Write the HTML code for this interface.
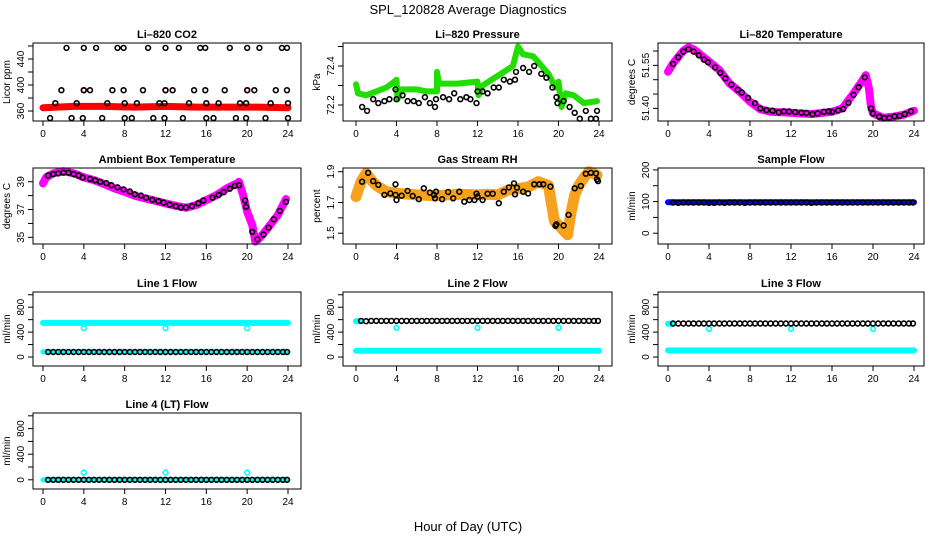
<!DOCTYPE html>
<html><head><meta charset="utf-8"><style>
html,body{margin:0;padding:0;background:#fff;}
svg{display:block;font-family:"Liberation Sans",Arial,sans-serif;}
</style></head><body>
<svg id="fig" width="936" height="540" viewBox="0 0 936 540" xmlns="http://www.w3.org/2000/svg">
<rect width="936" height="540" fill="#fff"/>
<text x="468" y="14" text-anchor="middle" font-size="13">SPL_120828  Average Diagnostics</text>
<text x="468" y="531" text-anchor="middle" font-size="13">Hour of Day (UTC)</text>
</svg>
<script>
// ---------- data ----------
const xTicks = [0,4,8,12,16,20,24];
// CO2
const co2Hours = [2.3,4.0,5.2,7.3,7.9,10.3,12.0,13.3,15.4,15.9,18.3,20.0,21.2,23.4,23.9,
 1.8,4.0,4.6,6.8,7.9,9.8,12.0,12.7,14.8,15.9,17.8,20.0,20.7,22.8,23.9,
 1.2,3.3,6.3,8.0,9.2,11.4,11.9,14.3,16.0,17.2,19.3,19.9,22.3,24.0,
 0.7,2.8,3.9,5.8,8.0,8.7,10.8,11.9,13.7,16.0,16.7,18.9,19.9,21.8,24.0];
const co2Values = [457,457,457,457,457,457,457,457,457,457,457,457,457,457,457,
 392,392,392,392,392,392,392,392,392,392,392,392,392,392,392,
 372,372,372,372,372,372,372,372,372,372,372,372,372,372,
 349,349,349,349,349,349,349,349,349,349,349,349,349,349,349];
const co2BandHours = [0,3,6,9,12,15,18,21,24];
const co2BandValues = [365,367,367,366,367,366,366,366,365];
const co2RedHours = [4,12,20];
const co2RedValues = [392,392,392];
// Pressure
const presBandHours = [0,0.2,1,2,3,3.8,4,4.1,4.5,6,7,8,8,8.2,10,12,12.1,12.5,14,15.5,16,16.5,17.5,18,19,19.7,20,20.3,20.7,21.5,22.5,23.8];
const presBandValues = [72.306,72.26,72.25,72.27,72.29,72.32,72.33,72.23,72.28,72.28,72.27,72.27,72.37,72.31,72.31,72.32,72.25,72.30,72.35,72.40,72.50,72.46,72.45,72.42,72.36,72.29,72.32,72.19,72.26,72.25,72.21,72.22];
const presHours = [0.6,1.1,1.7,2.2,2.8,3.3,3.9,4.0,4.6,5.1,5.7,6.2,6.8,7.3,7.8,7.9,8.6,9.2,9.7,10.3,10.9,11.3,11.9,12,12.5,13.0,13.6,14.1,14.6,15.2,15.7,15.8,16.5,17.1,17.6,18.3,18.8,19.4,19.8,19.9,20.5,21.1,21.6,22.1,22.7,23.2,23.7,23.8];
const presValues = [72.19,72.17,72.23,72.21,72.22,72.23,72.28,72.23,72.25,72.22,72.22,72.21,72.24,72.21,72.19,72.23,72.24,72.23,72.26,72.23,72.24,72.23,72.21,72.27,72.27,72.26,72.29,72.29,72.33,72.32,72.33,72.37,72.39,72.37,72.40,72.36,72.34,72.29,72.24,72.21,72.22,72.19,72.16,72.13,72.17,72.13,72.13,72.17];
// Li-820 Temperature
const tempBandHours = [0,0.5,1,1.5,2,2.5,3,4,5,6,7,8,9,10,12,14,16,17,18,19,19.3,19.6,19.8,20,21,22,23,24];
const tempBandValues = [51.528,51.557,51.580,51.601,51.613,51.606,51.592,51.563,51.534,51.487,51.458,51.423,51.397,51.388,51.385,51.380,51.388,51.400,51.447,51.499,51.516,51.470,51.406,51.383,51.367,51.371,51.378,51.392];
const tempHours = [0.5,1.0,1.5,2.0,2.5,3.0,3.5,3.9,4.6,5.1,5.6,6.2,6.8,7.2,7.8,8.5,9.0,9.6,10.2,10.8,11.3,11.8,12.4,13.0,13.5,14.1,14.6,15.2,15.7,16.0,16.6,17.1,17.6,18.1,18.6,19.2,19.8,20.0,20.6,21.1,21.6,22.1,22.6,23.1,23.7];
const tempValues = [51.555,51.578,51.598,51.606,51.598,51.585,51.570,51.561,51.543,51.524,51.505,51.483,51.465,51.455,51.437,51.418,51.400,51.394,51.392,51.386,51.390,51.389,51.387,51.385,51.384,51.380,51.382,51.388,51.390,51.388,51.393,51.398,51.419,51.447,51.474,51.508,51.400,51.382,51.371,51.366,51.367,51.372,51.374,51.380,51.390];
// Ambient
const ambBandHours = [0,0.3,1,2,3,4,5,6,7,8,9,10,11,12,13,14,15,16,17,18,19,19.2,19.6,20,20.5,20.8,21.2,22,23,23.8];
const ambBandValues = [38.88,39.31,39.6,39.77,39.6,39.31,39.12,38.83,38.52,38.28,37.99,37.8,37.63,37.44,37.27,37.13,37.32,37.68,38.04,38.52,38.88,39.0,38.04,36.84,35.89,34.69,34.93,35.65,36.6,37.75];
const ambHours = [0.5,1.0,1.5,2.0,2.5,3.0,3.5,3.9,4.6,5.1,5.6,6.2,6.7,7.3,7.9,8.5,9.0,9.6,10.1,10.7,11.3,11.8,12.4,13.0,13.5,14.0,14.6,15.2,15.7,16.6,17.2,17.7,18.3,18.8,19.2,19.8,19.9,20.5,21.0,21.6,22.1,22.6,23.2,23.8];
const ambValues = [39.45,39.55,39.6,39.65,39.65,39.55,39.45,39.3,39.2,39.1,39.0,38.9,38.75,38.6,38.45,38.3,38.1,38.0,37.85,37.7,37.6,37.5,37.35,37.25,37.15,37.15,37.25,37.45,37.65,37.85,38.05,38.25,38.5,38.7,38.75,37.65,37.2,35.4,34.85,35.2,35.7,36.3,36.9,37.55];
// RH
const rhBandHours = [0,0.5,1,1.5,2,3,4,6,8,10,12,13,14,15,16,17,18,19,19.3,19.6,20,20.6,20.9,21.2,21.6,22,22.6,23,23.8];
const rhBandValues = [1.738,1.835,1.889,1.846,1.81,1.77,1.76,1.749,1.744,1.753,1.749,1.753,1.749,1.78,1.79,1.80,1.835,1.81,1.695,1.576,1.554,1.51,1.49,1.62,1.749,1.81,1.868,1.9,1.878];
const rhHours = [0.6,1.2,1.7,2.2,2.8,3.4,3.9,3.9,4.0,4.5,5.1,5.6,6.2,6.7,7.3,7.7,7.8,7.9,8.5,9.1,9.6,10.2,10.7,11.2,11.7,11.9,12,12.5,13,13.5,14.1,14.6,15.1,15.6,15.7,15.9,16.5,17,17.6,18.1,18.5,19.2,19.7,19.8,20.5,21.0,21.6,22.2,22.7,23.2,23.7,23.8,23.9];
const rhValues = [1.835,1.893,1.839,1.814,1.749,1.759,1.818,1.749,1.716,1.744,1.775,1.742,1.721,1.792,1.764,1.749,1.727,1.770,1.721,1.768,1.727,1.770,1.705,1.716,1.716,1.757,1.738,1.716,1.757,1.757,1.695,1.770,1.798,1.824,1.753,1.796,1.770,1.759,1.818,1.818,1.818,1.803,1.548,1.558,1.550,1.619,1.792,1.807,1.887,1.893,1.889,1.850,1.839];
// Flows (shared hour grid)
const flowHours = [0.5,1,1.5,2,2.5,3,3.5,4,4.5,5,5.5,6,6.5,7,7.5,8,8.5,9,9.5,10,10.5,11,11.5,12,12.5,13,13.5,14,14.5,15,15.5,16,16.5,17,17.5,18,18.5,19,19.5,20,20.5,21,21.5,22,22.5,23,23.5,23.9];
const sampleValues = [97,96,97,97,97,97,97,96,96,97,96,97,97,97,96,97,97,97,97,97,97,97,97,97,97,97,97,96,97,97,97,97,97,97,97,97,97,97,97,97,97,97,97,97,97,97,97,97];
const line1Values = [80,80,80,80,80,80,80,80,80,80,80,80,80,80,80,80,80,80,80,80,80,80,80,80,80,80,80,80,80,80,80,80,80,80,80,80,80,80,80,80,80,80,80,80,80,80,80,80];
const line2Values = [580,575,580,580,580,580,580,580,580,580,580,580,580,580,580,580,580,580,580,580,580,580,580,580,580,580,580,580,580,580,580,580,580,580,580,580,580,580,580,580,580,580,580,580,580,580,580,580];
const line3Values = [538,538,538,538,538,538,538,538,538,538,538,538,538,538,538,538,538,538,538,538,538,538,538,538,538,538,538,538,538,538,538,538,538,538,538,538,538,538,538,538,538,538,538,538,538,538,538,538];
const line4Values = [0,0,0,0,0,0,0,0,0,0,0,0,0,0,0,0,0,0,0,0,0,0,0,0,0,0,0,0,0,0,0,0,0,0,0,0,0,0,0,0,0,0,0,0,0,0,0,0];
const sampleBandHours = [0,24];  const sampleBandValues = [98,98];
const line1HiHours = [0,24];     const line1HiValues = [548,548];
const line1LoHours = [0,24];     const line1LoValues = [85,85];
const line2LoHours = [0,24];     const line2LoValues = [100,100];
const line2HiHours = [0,0.5];    const line2HiValues = [575,575];
const line3LoHours = [0,24];     const line3LoValues = [106,106];
const line3HiHours = [0,0.5];    const line3HiValues = [535,535];
const line4BandHours = [0,24];   const line4BandValues = [0,0];
const dipHours = [4,12,20];
const line1DipValues = [464,464,464];
const line2DipValues = [470,470,470];
const line3DipValues = [453,453,453];
const line4DipValues = [112,112,112];

// ---------- layout ----------
const cols = [{bl:33,br:301,x0:43,x24:288},{bl:343,br:612,x0:356,x24:599},{bl:658,br:924,x0:668,x24:914}];
const rows = [{t:43,b:121},{t:168,b:244},{t:292,b:366},{t:413,b:489}];
const NS = 'http://www.w3.org/2000/svg';
const svg = document.getElementById('fig');
function mk(tag, attrs, parent){const e=document.createElementNS(NS,tag);for(const k in attrs)e.setAttribute(k,attrs[k]);(parent||svg).appendChild(e);return e;}

function panel(p){
  const c=cols[p.col], r=rows[p.row];
  const g=mk('g',{});
  
  
  const xs=h=>c.x0+(c.x24-c.x0)*h/24;
  const ys=v=>r.b-(v-p.ymin)/(p.ymax-p.ymin)*(r.b-r.t);
  // series
  p.series.forEach(s=>{
    if(s.type==='band'){
      const pts=s.h.map((h,i)=>xs(h).toFixed(1)+','+ys(s.v[i]).toFixed(1)).join(' ');
      const pl=mk('polyline',{points:pts,fill:'none',stroke:s.color,'stroke-width':s.w,'stroke-linejoin':'round','stroke-linecap':'round'},g);
      
      
    } else {
      const sg=mk('g',{fill:'none',stroke:s.color,'stroke-width':1.6},g);
      
      
      s.h.forEach((h,i)=>{
        const pt=mk('circle',{cx:xs(h).toFixed(1),cy:ys(s.v[i]).toFixed(1),r:s.r||2.4},sg);
        
        
      });
    }
  });
  // box
  const box=mk('rect',{x:c.bl,y:r.t,width:c.br-c.bl,height:r.b-r.t,fill:'none',stroke:'#000','stroke-width':1},g);
  
  
  // title
  const t=mk('text',{x:(c.bl+c.br)/2,y:r.t-5,'text-anchor':'middle','font-size':11,'font-weight':'bold'},g);
  t.textContent=p.title;
  
  
  // x axis
  const xa=mk('g',{},g);
  
  
  xTicks.forEach(v=>{
    mk('line',{x1:xs(v),x2:xs(v),y1:r.b,y2:r.b+5,stroke:'#000'},xa);
    const tl=mk('text',{x:xs(v),y:r.b+16,'text-anchor':'middle','font-size':10},xa);
    tl.textContent=v;
  });
  // y axis
  const ya=mk('g',{},g);
  
  
  p.ticks.forEach(v=>{
    const y=ys(v); if(y<r.t-1||y>r.b+1) return;
    mk('line',{x1:c.bl-5,x2:c.bl,y1:y,y2:y,stroke:'#000'},ya);
  });
  p.labels.forEach(v=>{
    const y=ys(v); const x=c.bl-9;
    const tl=mk('text',{x:x,y:y,'text-anchor':'middle','font-size':10,transform:`rotate(-90 ${x} ${y})`},ya);
    tl.textContent=p.fmt?p.fmt(v):v;
  });
  const yl=mk('text',{x:c.bl-23,y:(r.t+r.b)/2,'text-anchor':'middle','font-size':10,transform:`rotate(-90 ${c.bl-23} ${(r.t+r.b)/2})`},g);
  yl.textContent=p.ylab;
  
  
}

const flowTicks=[0,200,400,600,800,1000], flowLabels=[0,400,800];
const panels=[
 {key:'co2',title:'Li\u2013820 CO2',col:0,row:0,ylab:'Licor ppm',ymin:344.6,ymax:464.6,ticks:[360,380,400,420,440,460],labels:[360,400,440],
  series:[{type:'band',name:'co2-band',h:co2BandHours,v:co2BandValues,color:'#ff0000',w:7},
          {type:'pts',name:'co2-red-points',h:co2RedHours,v:co2RedValues,color:'#ff0000'},
          {type:'pts',name:'co2-average-points',h:co2Hours,v:co2Values,color:'#000'}]},
 {key:'pressure',title:'Li\u2013820 Pressure',col:1,row:0,ylab:'kPa',ymin:72.118,ymax:72.518,ticks:[72.2,72.3,72.4,72.5],labels:[72.2,72.4],fmt:v=>v.toFixed(1),
  series:[{type:'band',name:'pressure-band',h:presBandHours,v:presBandValues,color:'#22dd00',w:6},
          {type:'pts',name:'pressure-average-points',h:presHours,v:presValues,color:'#000'}]},
 {key:'li820-temp',title:'Li\u2013820 Temperature',col:2,row:0,ylab:'degrees C',ymin:51.356,ymax:51.628,ticks:[51.40,51.45,51.50,51.55,51.60],labels:[51.40,51.55],fmt:v=>v.toFixed(2),
  series:[{type:'band',name:'li820-temp-band',h:tempBandHours,v:tempBandValues,color:'#ff00ff',w:8},
          {type:'pts',name:'li820-temp-average-points',h:tempHours,v:tempValues,color:'#000'}]},
 {key:'ambient-temp',title:'Ambient Box Temperature',col:0,row:1,ylab:'degrees C',ymin:34.52,ymax:39.99,ticks:[35,36,37,38,39],labels:[35,37,39],
  series:[{type:'band',name:'ambient-temp-band',h:ambBandHours,v:ambBandValues,color:'#ff00ff',w:8},
          {type:'pts',name:'ambient-temp-average-points',h:ambHours,v:ambValues,color:'#000'}]},
 {key:'rh',title:'Gas Stream RH',col:1,row:1,ylab:'percent',ymin:1.43,ymax:1.924,ticks:[1.5,1.6,1.7,1.8,1.9],labels:[1.5,1.7,1.9],fmt:v=>v.toFixed(1),
  series:[{type:'band',name:'rh-band',h:rhBandHours,v:rhBandValues,color:'#f7a21c',w:11},
          {type:'pts',name:'rh-average-points',h:rhHours,v:rhValues,color:'#000'}]},
 {key:'sample-flow',title:'Sample Flow',col:2,row:1,ylab:'ml/min',ymin:-34,ymax:206,ticks:[0,50,100,150,200],labels:[0,100,200],
  series:[{type:'band',name:'sample-flow-band',h:sampleBandHours,v:sampleBandValues,color:'#0000ff',w:6},
          {type:'pts',name:'sample-flow-average-points',h:flowHours,v:sampleValues,color:'#000'}]},
 {key:'line1-flow',title:'Line 1 Flow',col:0,row:2,ylab:'ml/min',ymin:-144,ymax:1044,ticks:flowTicks,labels:flowLabels,
  series:[{type:'band',name:'line1-high-band',h:line1HiHours,v:line1HiValues,color:'#00ffff',w:6},
          {type:'band',name:'line1-low-band',h:line1LoHours,v:line1LoValues,color:'#00ffff',w:5},
          {type:'pts',name:'line1-dip-points',h:dipHours,v:line1DipValues,color:'#00ffff'},
          {type:'pts',name:'line1-average-points',h:flowHours,v:line1Values,color:'#000'}]},
 {key:'line2-flow',title:'Line 2 Flow',col:1,row:2,ylab:'ml/min',ymin:-144,ymax:1044,ticks:flowTicks,labels:flowLabels,
  series:[{type:'band',name:'line2-low-band',h:line2LoHours,v:line2LoValues,color:'#00ffff',w:6},
          {type:'band',name:'line2-high-band',h:line2HiHours,v:line2HiValues,color:'#00ffff',w:6},
          {type:'pts',name:'line2-dip-points',h:dipHours,v:line2DipValues,color:'#00ffff'},
          {type:'pts',name:'line2-average-points',h:flowHours,v:line2Values,color:'#000'}]},
 {key:'line3-flow',title:'Line 3 Flow',col:2,row:2,ylab:'ml/min',ymin:-144,ymax:1044,ticks:flowTicks,labels:flowLabels,
  series:[{type:'band',name:'line3-low-band',h:line3LoHours,v:line3LoValues,color:'#00ffff',w:6},
          {type:'band',name:'line3-high-band',h:line3HiHours,v:line3HiValues,color:'#00ffff',w:6},
          {type:'pts',name:'line3-dip-points',h:dipHours,v:line3DipValues,color:'#00ffff'},
          {type:'pts',name:'line3-average-points',h:flowHours,v:line3Values,color:'#000'}]},
 {key:'line4-flow',title:'Line 4 (LT) Flow',col:0,row:3,ylab:'ml/min',ymin:-144,ymax:1044,ticks:flowTicks,labels:flowLabels,
  series:[{type:'band',name:'line4-band',h:line4BandHours,v:line4BandValues,color:'#00ffff',w:5},
          {type:'pts',name:'line4-dip-points',h:dipHours,v:line4DipValues,color:'#00ffff'},
          {type:'pts',name:'line4-average-points',h:flowHours,v:line4Values,color:'#000'}]}
];
panels.forEach(panel);
</script>
</body></html>
